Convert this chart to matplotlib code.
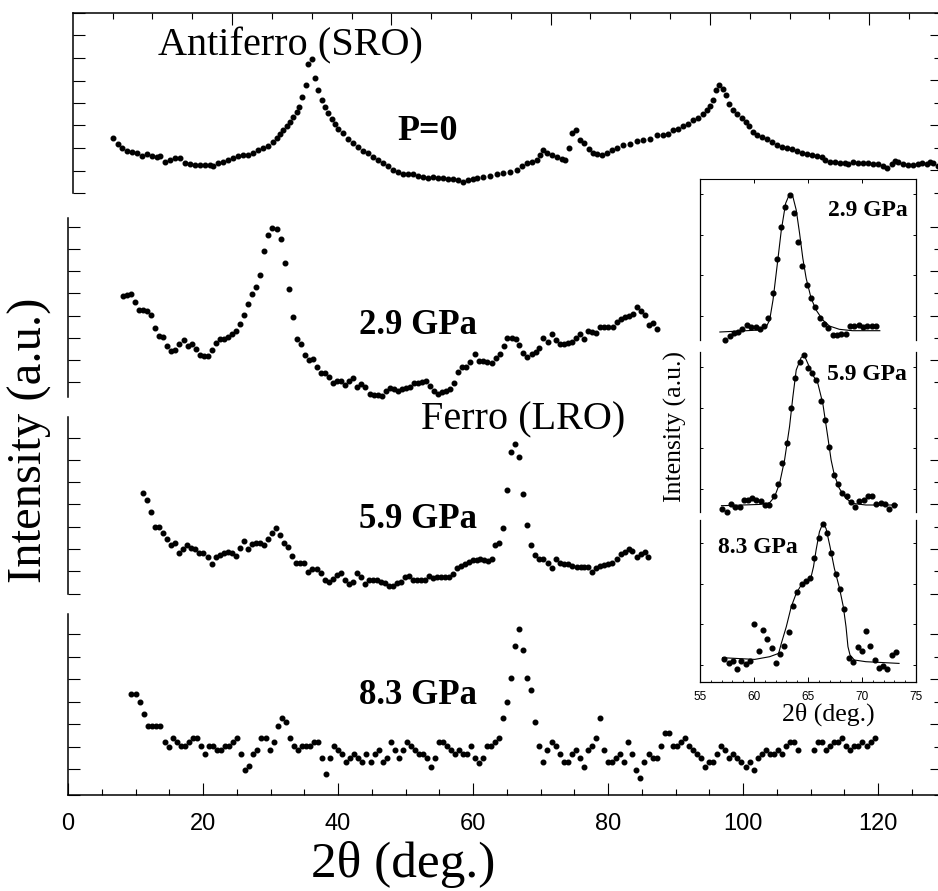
import numpy as np
import matplotlib
matplotlib.use('Agg')
import matplotlib.pyplot as plt

# ---------------- main panels: 2theta (deg.) vs intensity (a.u.) ----------------
p0_x = [6.72, 7.46, 7.95, 8.69, 9.43, 10.17, 10.91, 11.65, 12.4, 13.14, 13.63, 14.37, 15.11, 15.85,
        16.59, 17.33, 18.07, 18.81, 19.56, 20.3, 21.04, 21.53, 22.27, 23.01, 23.75, 24.49, 25.23,
        25.98, 26.72, 27.46, 28.2, 28.94, 29.68, 30.42, 30.91, 31.41, 31.9, 32.4, 32.89, 33.38,
        33.88, 34.27, 34.72, 35.26, 35.6, 36.1, 36.59, 37.09, 37.58, 38.07, 38.57, 39.06, 39.56,
        40.05, 40.79, 41.53, 42.27, 43.01, 43.75, 44.49, 45.23, 45.98, 46.72, 47.46, 48.2, 48.94,
        49.68, 50.42, 51.16, 51.9, 52.64, 53.38, 54.12, 54.86, 55.6, 56.35, 57.09, 57.83, 58.57,
        59.31, 60.05, 60.54, 61.53, 62.51, 63.5, 64.49, 65.48, 66.47, 67.2, 67.95, 68.69, 69.43,
        69.92, 70.42, 71.01, 71.65, 72.39, 73.13, 73.63, 74.27, 74.71, 75.26, 75.85, 76.44, 77.18,
        77.72, 78.42, 79.16, 79.8, 80.54, 81.28, 82.27, 83.26, 84.24, 85.23, 86.22, 87.2, 88.19,
        88.93, 89.67, 90.42, 91.16, 91.9, 92.64, 93.38, 94.12, 94.71, 95.1, 95.6, 96.0, 96.49,
        96.98, 97.43, 97.97, 98.56, 99.16, 99.8, 100.44, 100.93, 101.43, 102.02, 102.76, 103.5,
        104.24, 104.98, 105.73, 106.47, 107.21, 107.95, 108.69, 109.43, 110.17, 110.91, 111.65,
        112.14, 112.89, 113.63, 114.37, 115.11, 115.6, 116.34, 117.08, 117.82, 118.56, 119.3,
        120.05, 120.79, 121.28, 122.02, 122.51, 123.0, 123.75, 124.49, 125.23, 125.97, 126.47,
        127.2, 127.7, 128.2, 128.9]
p0_y = [62.3, 56.7, 51.7, 49, 48.3, 47.3, 44, 46, 44.3, 42.7, 44, 38.3, 40, 42,
        41.7, 37.3, 36, 35, 34.7, 35, 34.7, 34, 36.7, 38.3, 40, 42.3, 44.3,
        45, 45, 46.7, 50, 52.3, 54.3, 58.3, 62.7, 66.7, 70, 74, 78.3, 83.3,
        88.3, 93.3, 103.3, 115.7, 136.7, 141.3, 122.3, 110, 100.7, 93.3, 87.7, 81.7, 76.7,
        71.7, 67.3, 61.7, 57.3, 53.3, 49.3, 46.7, 43.3, 40, 36.7, 34, 30, 28.3,
        26, 25.7, 26, 24.3, 23.3, 21.7, 22.7, 21.7, 21.7, 21, 20.7, 19.7, 18.3,
        20, 21.3, 21.7, 23.3, 24, 26, 27.3, 28.3, 30, 34.3, 36.7, 37.7, 40,
        45, 50, 47.3, 45.3, 43.3, 41.3, 40, 51.7, 67.3, 70.7, 60, 57.3, 50.7,
        46.7, 45.7, 45, 46.7, 50, 52.7, 55, 56.7, 59, 60.7, 61.7, 65, 65,
        66.7, 70, 71.7, 74, 76.7, 80, 82.7, 86, 90, 94, 100.7, 110.7, 115,
        111.7, 105, 96.7, 90, 86.7, 82.7, 78.3, 74, 68.3, 65.7, 63.3, 61,
        58.3, 55.7, 53.3, 52.3, 51, 49, 46.7, 45.7, 45, 44, 43.3,
        40, 38.3, 37.7, 36.7, 36.7, 35.7, 37.7, 36.7, 36.7, 36.7, 36,
        35.7, 34.3, 32.3, 35.7, 39.3, 38.3, 35.7, 35, 35, 35.7, 36.7,
        36, 38.3, 36.7, 34.3]

p29_x = [8.1, 8.69, 9.33, 9.98, 10.57, 11.16, 11.75, 12.35, 12.94, 13.53, 14.12, 14.72, 15.31,
         15.9, 16.49, 17.14, 17.73, 18.32, 18.91, 19.51, 20.1, 20.69, 21.28, 21.88, 22.52, 23.11,
         23.7, 24.3, 24.89, 25.48, 26.07, 26.72, 27.31, 27.9, 28.49, 29.09, 29.68, 30.27, 30.91,
         31.51, 32.1, 32.69, 33.33, 33.93, 34.52, 35.11, 35.7, 36.3, 36.89, 37.48, 38.07, 38.67,
         39.26, 39.85, 40.44, 41.04, 41.63, 42.27, 42.86, 43.46, 44.05, 44.69, 45.28, 45.88, 46.47,
         47.06, 47.66, 48.25, 48.84, 49.43, 50.03, 50.62, 51.21, 51.8, 52.44, 53.04, 53.63, 54.22,
         54.81, 55.41, 56.0, 56.59, 57.24, 57.83, 58.42, 59.01, 59.61, 60.25, 60.84, 61.54, 62.13,
         62.77, 63.36, 64.0, 64.6, 65.09, 65.73, 66.33, 66.82, 67.46, 68.05, 68.7, 69.29, 69.83,
         70.42, 71.07, 71.71, 72.3, 72.89, 73.49, 74.13, 74.72, 75.21, 75.86, 76.5, 76.99, 77.59,
         78.23, 78.82, 79.41, 80.05, 80.7, 81.29, 81.93, 82.52, 83.17, 83.66, 84.25, 84.84, 85.49,
         86.08, 86.72, 87.21]
p29_y = [101, 101.3, 102.3, 95, 86.7, 86.3, 85.7, 81.7, 69, 60.7, 59.3, 50.7, 46,
         46.7, 52.7, 56.3, 51, 52.7, 47.3, 42, 40.3, 40.3, 47, 54, 57.7, 57.3,
         60, 62.3, 65.7, 72.3, 81.3, 92.3, 102.7, 110, 122, 145.7, 162, 168.3, 168,
         157.7, 133.7, 107.3, 79.3, 58, 52.7, 41.7, 37, 37.7, 29.3, 23.3, 24, 19.3,
         13.7, 15.7, 15.7, 12, 15.3, 18.7, 9.3, 12.3, 9.3, 2.3, 1.3, 1.3, 1,
         5.7, 9, 7.7, 6, 7.7, 9, 10, 14, 14, 14.7, 16, 10.7, 5.7,
         3, 4.3, 5.7, 7.3, 13.3, 24.3, 29.7, 30, 34.3, 42.7, 36, 36, 35,
         33.3, 38.3, 42.3, 50.7, 58.3, 59, 57.7, 51.7, 43.3, 40, 42.3, 44.3, 48.3,
         58.3, 55, 62.7, 56.7, 52.7, 52.3, 54, 55, 58.3, 62.7, 57.7, 66, 65,
         63.3, 69.3, 70, 69.3, 70, 75, 77.3, 79.3, 80.7, 82.7, 90, 86, 81.7,
         71.7, 74, 67.3]

p59_x = [11.16, 11.75, 12.35, 12.94, 13.53, 14.12, 14.72, 15.31, 15.9, 16.49, 17.09, 17.68, 18.27,
         18.86, 19.46, 20.05, 20.69, 21.28, 21.88, 22.47, 23.06, 23.65, 24.25, 24.89, 25.48, 26.07,
         26.67, 27.26, 27.85, 28.44, 29.04, 29.63, 30.27, 30.86, 31.46, 32.05, 32.64, 33.23, 33.83,
         34.42, 35.01, 35.6, 36.2, 36.84, 37.43, 38.02, 38.62, 39.21, 39.8, 40.39, 40.99, 41.58,
         42.17, 42.77, 43.41, 44.0, 44.59, 45.19, 45.78, 46.37, 46.96, 47.56, 48.15, 48.74, 49.33,
         49.93, 50.52, 51.11, 51.7, 52.3, 52.89, 53.48, 54.07, 54.67, 55.26, 55.85, 56.44, 57.04,
         57.63, 58.22, 58.81, 59.41, 60.0, 60.59, 61.04, 61.63, 62.28, 62.77, 63.26, 63.9, 64.4,
         64.99, 65.63, 66.23, 66.82, 67.46, 68.0, 68.65, 69.19, 69.83, 70.42, 71.07, 71.66, 72.25,
         72.89, 73.54, 74.13, 74.72, 75.36, 75.96, 76.5, 77.09, 77.68, 78.23, 78.82, 79.41, 80.05,
         80.65, 81.29, 81.88, 82.52, 83.07, 83.61, 84.25, 84.84, 85.49, 85.98]
p59_y = [101, 94.3, 82, 67.7, 67.7, 61.7, 55.3, 49.3, 51, 41, 45.3, 49.7, 46,
         45.3, 41.7, 41, 37, 30.7, 37.7, 39.3, 41, 42.7, 41, 38.7, 46, 53.7,
         45.3, 50, 51, 51, 49.3, 55.3, 61.7, 66, 59.7, 51, 47, 38.7, 31,
         31, 31, 22.7, 25, 25, 21, 14.3, 12.7, 15, 19.3, 21, 14.3, 10,
         12.7, 21, 17.7, 10.3, 14.3, 14.3, 14.3, 12.7, 11, 8.7, 8.7, 11.7, 12.7,
         17, 18.7, 14.3, 14.3, 14.3, 14.3, 18.7, 16.7, 17.7, 17.7, 17.7, 17.7, 20.3,
         26, 28.7, 30.3, 32, 34.3, 34.3, 35.3, 34.3, 33.7, 35, 49.3, 51, 66,
         104.3, 142, 150, 137, 100.3, 69.7, 49.3, 39.3, 35, 35, 31, 26.7, 35,
         31.7, 30, 30, 28.3, 27, 27.7, 27, 27, 22.7, 26, 28.7, 29.3, 30.3,
         31.7, 35, 40.3, 42.7, 45.3, 43.7, 37.7, 40, 42.7, 37]

p83_x = [9.33, 10.07, 10.67, 11.31, 11.9, 12.49, 13.09, 13.68, 14.32, 14.91, 15.51, 16.1, 16.69,
         17.28, 17.88, 18.47, 19.06, 19.7, 20.3, 20.89, 21.48, 22.07, 22.67, 23.26, 23.85, 24.44,
         25.04, 25.68, 26.27, 26.86, 27.46, 28.05, 28.64, 29.28, 29.88, 30.47, 31.06, 31.65, 32.25,
         32.84, 33.43, 34.02, 34.62, 35.21, 35.8, 36.39, 36.99, 37.63, 38.22, 38.81, 39.41, 40.0,
         40.59, 41.19, 41.78, 42.37, 42.96, 43.56, 44.15, 44.84, 45.43, 46.02, 46.62, 47.21, 47.8,
         48.4, 49.04, 49.63, 50.22, 50.81, 51.41, 52.0, 52.59, 53.23, 53.83, 54.42, 55.01, 55.6,
         56.2, 56.79, 57.38, 57.98, 58.57, 59.16, 59.75, 60.35, 60.89, 61.43, 62.02, 62.66, 63.26,
         63.85, 64.39, 64.99, 65.63, 66.22, 66.86, 67.45, 68.05, 68.64, 69.23, 69.82, 70.42, 71.01,
         71.65, 72.24, 72.84, 73.43, 74.02, 74.61, 75.26, 75.85, 76.44, 77.03, 77.63, 78.22, 78.81,
         79.41, 80.0, 80.64, 81.23, 81.82, 82.42, 83.01, 83.6, 84.19, 84.79, 85.38, 86.02, 86.61,
         87.21, 87.8, 88.39, 88.99, 89.58, 90.22, 90.81, 91.41, 92.0, 92.59, 93.18, 93.78, 94.37,
         94.96, 95.6, 96.2, 96.79, 97.38, 97.97, 98.57, 99.16, 99.75, 100.39, 100.99, 101.58,
         102.17, 102.76, 103.36, 103.95, 104.54, 105.18, 105.78, 106.37, 106.96, 107.55, 108.15,
         110.52, 111.11, 111.7, 112.29, 112.89, 113.53, 114.12, 114.71, 115.31, 115.9, 116.49,
         117.09, 117.68, 118.32, 118.91, 119.5]
p83_y = [101, 101, 92.7, 81, 69, 69, 69, 69, 53.3, 48.3, 57.3, 53.3, 49,
         49, 53.3, 57.3, 57.3, 49, 41, 49, 49, 45, 45, 49, 49, 53.3,
         57.3, 41, 25, 29.3, 41, 45, 57.3, 57.3, 45, 53.3, 69, 77.3, 72.7,
         57.3, 49, 45, 49, 49, 49, 53.3, 53.3, 36.7, 21, 36.7, 49, 45,
         41, 32.7, 36.7, 41, 36.7, 32.7, 41, 32.7, 41, 45, 32.7, 36.7, 53.3,
         45, 36.7, 45, 53.3, 49, 45, 41, 41, 36.7, 28.3, 36.7, 53.3, 53.3,
         49, 45, 41, 45, 41, 41, 49, 36.7, 32.3, 37.3, 49, 49, 53.3,
         57.3, 76.7, 92.7, 116.7, 149, 165.7, 145, 116.7, 105, 72.7, 49, 32.7, 45,
         53.3, 49, 41, 32.7, 32.7, 41, 45, 36.7, 28.3, 45, 49, 57.3, 76.7,
         45, 32.7, 32.7, 36.7, 41, 32.7, 53.3, 41, 25, 16.7, 32.7, 41, 36.7,
         36.7, 49, 61.7, 61.7, 49, 49, 53.3, 57.3, 49, 45, 41, 36.7, 28.3,
         32.7, 32.7, 41, 49, 45, 36.7, 41, 36.7, 32.7, 28.3, 32.7, 25,
         36.7, 41, 45, 41, 41, 45, 41, 49, 53.3, 53.3, 45,
         45, 53.3, 53.3, 45, 49, 53.3, 53.3, 57.3, 49, 45, 49,
         49, 53.3, 49, 53.3, 57.3]

# ---------------- inset: 2theta 55-75 deg, data and fitted curves ----------------
in29_x = [57.3, 57.76, 58.16, 58.56, 58.93, 59.36, 59.76, 60.16, 60.53, 60.93, 61.33, 61.73, 62.13,
          62.5, 62.9, 63.29, 63.69, 64.09, 64.49, 64.89, 65.29, 65.69, 66.09, 66.49, 66.89, 67.29,
          67.69, 68.09, 68.49, 68.89, 69.29, 69.69, 70.08, 70.48, 70.88, 71.28]
in29_y = [0, 4.3, 6.7, 8.3, 11, 15, 13.3, 12.7, 10.7, 14.3, 21.7, 46.7, 80.7,
          112.7, 133.3, 144.7, 127.3, 98.3, 74, 55, 42.3, 33.3, 21.7, 16, 12.3, 5,
          5.3, 6, 6, 14.3, 14.3, 15, 13.3, 14.3, 14, 14]
fit29_x = [56.84, 59.3, 60.53, 61.14, 61.45, 61.76, 62.13, 62.53, 62.93, 63.29, 63.6, 63.91, 64.22,
           64.52, 64.83, 65.29, 65.75, 66.37, 66.98, 67.9, 69.13, 71.65]
fit29_y = [8, 9.3, 10, 13.3, 20, 40, 73.3, 110, 136.7, 146, 143.3, 130, 106.7,
           81.7, 61.7, 41.7, 30, 20, 14, 10.7, 9.3, 9.3]

in59_x = [57.06, 57.46, 57.86, 58.26, 58.66, 59.05, 59.45, 59.82, 60.22, 60.62, 61.02, 61.42, 61.82,
          62.22, 62.62, 63.02, 63.42, 63.82, 64.22, 64.59, 64.98, 65.38, 65.78, 66.18, 66.58, 66.98,
          67.38, 67.78, 68.18, 68.58, 68.98, 69.35, 69.75, 70.15, 70.55, 70.94, 71.34, 71.74, 72.14,
          72.54, 72.94]
in59_y = [2.3, 0, 7.3, 5, 5, 11.7, 11.7, 14, 11.7, 11, 6.7, 6.7, 16,
          27.7, 48.3, 69, 103.3, 133.3, 150, 156.7, 143.3, 138.3, 131.7, 111, 91.7, 64.3,
          36.7, 27.7, 18.3, 16, 9.3, 5, 11, 11.7, 16, 16, 7.7, 8.3, 7.7,
          2.3, 6.7]
fit59_x = [56.99, 58.99, 60.53, 61.45, 61.91, 62.37, 62.83, 63.29, 63.6, 63.91, 64.37, 64.68, 64.98,
           65.45, 65.91, 66.37, 66.83, 67.14, 67.44, 67.9, 68.52, 69.13, 70.36, 73.28]
fit59_y = [6, 6.7, 7.3, 9, 15, 28.3, 51.7, 85, 115, 141.7, 154.3, 155.7, 148.3,
           136.7, 128.3, 108.3, 75, 51.7, 36.7, 23.3, 13.3, 8.3, 6.7, 6.7]

in83_x = [57.24, 57.64, 58.04, 58.44, 58.84, 59.24, 59.64, 60.04, 60.44, 60.84, 61.21, 61.64, 62.0,
          62.4, 62.8, 63.2, 63.6, 64.0, 64.4, 64.8, 65.2, 65.6, 66.0, 66.37, 66.77, 67.17,
          67.57, 67.96, 68.36, 68.76, 69.16, 69.59, 69.99, 70.39, 70.76, 71.16, 71.56, 71.96, 72.36,
          72.76, 73.16]
in83_y = [22.3, 19, 21, 12.7, 20.7, 17.7, 20.7, 57.7, 31, 51.7, 42.7, 33.7, 19,
          27.3, 36, 50, 75.7, 90, 97.7, 100.7, 103.3, 123.3, 143.3, 157.3, 148.3, 128.3,
          107.7, 92.7, 72.7, 23.3, 20, 34.3, 31, 51, 36, 21.7, 13.3, 15.7, 12.3,
          26.7, 29.3]
fit83_x = [57.09, 60.07, 61.45, 62.28, 62.53, 62.99, 63.45, 63.91, 64.37, 64.98, 65.29, 65.51, 65.75,
           66.06, 66.37, 66.67, 67.04, 67.44, 67.9, 68.27, 68.52, 68.7, 68.89, 69.29, 70.36, 73.43]
fit83_y = [24, 22.3, 25, 28.3, 38.3, 55, 75, 88.3, 96.7, 100.7, 105, 115, 131.7,
           150, 158.3, 153.3, 135, 113.3, 94.3, 75, 55, 35, 26.7, 21.7, 20, 18.3]

W, H = 938, 891
SERIF = ['Liberation Serif', 'DejaVu Serif']
SANS = ['Liberation Sans Narrow', 'Liberation Sans', 'DejaVu Sans']

fig = plt.figure(figsize=(W / 100, H / 100), dpi=100)


def px_axes(left, top, right, bottom):
    # axes box given in pixel coordinates of the figure
    return fig.add_axes([left / W, 1 - bottom / H, (right - left) / W, (bottom - top) / H])


def setup_panel(ax, xlim, ylim, yticks, long_right):
    ax.set_xlim(xlim)
    ax.set_ylim(ylim)
    ax.patch.set_alpha(0)
    for s in ['top', 'right', 'bottom']:
        ax.spines[s].set_visible(False)
    ax.spines['left'].set_linewidth(1.1)
    ax.set_xticks([])
    ax.set_yticks(yticks)
    ax.tick_params(axis='y', direction='in', length=8.5, width=0.8, labelleft=False)
    sec = ax.secondary_yaxis('right')
    sec.spines['right'].set_visible(False)
    sec.set_yticks(yticks[long_right::2])
    sec.set_yticks(yticks[1 - long_right::2], minor=True)
    sec.tick_params(which='major', direction='in', length=5.5, width=0.8, labelright=False)
    sec.tick_params(which='minor', direction='in', length=2.8, width=0.8, labelright=False)


dot = dict(ls='none', marker='o', ms=3.3, color='black', mec='black', clip_on=False)
xmax = (938 - 68) / 6.75

# top panel P=0
ax0 = px_axes(72.5, 13, 938, 193)
setup_panel(ax0, ((72.5 - 68) / 6.75, xmax), (7, 187), list(np.arange(7, 188, 22.6)), 1)
ax0.spines['top'].set_visible(True)
ax0.spines['top'].set_linewidth(1.1)
ax0.set_xticks(np.arange(24.3, 129, 23.6))
ax0.set_xticks(np.arange(6.6, 129, 5.9), minor=True)
ax0.tick_params(axis='x', which='major', top=True, bottom=False, direction='in', length=8.5,
                width=0.8, labeltop=False, labelbottom=False)
ax0.tick_params(axis='x', which='minor', top=True, bottom=False, direction='in', length=4.3,
                width=0.8)
ax0.plot(p0_x, p0_y, **dot)
ax0.text(33.0, 155, 'Antiferro (SRO)', family=SERIF, fontsize=29, ha='center', va='center')
ax0.text(53.3, 69, 'P=0', family=SERIF, fontsize=26, fontweight='bold', ha='center', va='center')

# 2.9 GPa
ax1 = px_axes(68, 218, 938, 396.7)
setup_panel(ax1, (0, xmax), (0, 178.7), [14.7, 36.7, 58.7, 80.7, 103.7, 125.7, 147.7, 169.7], 1)
ax1.plot(p29_x, p29_y, **dot)
ax1.text(51.9, 71.7, '2.9 GPa', family=SERIF, fontsize=25, fontweight='bold', ha='center', va='center')

# 5.9 GPa
ax2 = px_axes(67.5, 417, 938, 594.3)
setup_panel(ax2, ((67.5 - 68) / 6.75, xmax), (0, 177.3),
            [0.3, 23.3, 45.3, 67.3, 90.3, 112.3, 134.3, 156.3], 0)
ax2.plot(p59_x, p59_y, **dot)
ax2.text(51.9, 75.3, '5.9 GPa', family=SERIF, fontsize=25, fontweight='bold', ha='center', va='center')
ax2.text(67.4, 174.3, 'Ferro (LRO)', family=SERIF, fontsize=29, ha='center', va='center')

# 8.3 GPa
ax3 = px_axes(68, 614, 938, 795)
setup_panel(ax3, (0, xmax), (0, 181), [0, 26, 48, 71, 93, 116, 138, 161], 1)
ax3.spines['bottom'].set_visible(True)
ax3.spines['bottom'].set_linewidth(1.1)
ax3.set_xticks(np.arange(0, 121, 20))
ax3.set_xticks(np.arange(0, 129, 5), minor=True)
ax3.tick_params(axis='x', which='major', direction='in', length=8.5, width=0.8, pad=13,
                labelsize=17)
ax3.tick_params(axis='x', which='minor', direction='in', length=4.3, width=0.8)
for lab in ax3.get_xticklabels():
    lab.set_family(SANS)
ax3.plot(p83_x, p83_y, **dot)
ax3.text(51.9, 99, '8.3 GPa', family=SERIF, fontsize=25, fontweight='bold', ha='center', va='center')

fig.text(30 / W, 1 - 440 / H, 'Intensity (a.u.)', family=SERIF, fontsize=35, rotation=90,
         ha='center', va='center')
fig.text(403 / W, 1 - 864 / H, '2\u03b8 (deg.)', family=SERIF, fontsize=37, ha='center', va='center')

# ---------------- inset ----------------
insets = [(179, 340, in29_x, in29_y, fit29_x, fit29_y, [24.3, 64.8, 105.3, 145.8]),
          (352, 511.7, in59_x, in59_y, fit59_x, fit59_y, [22.7, 63.4, 104.1, 144.8]),
          (520, 681.7, in83_x, in83_y, fit83_x, fit83_y, [16.7, 57.4, 98.1, 138.8])]
inset_axes = []
for i, (top, bottom, dx, dy, fx, fy, yt) in enumerate(insets):
    ax = px_axes(700, top, 916, bottom)
    ax.set_facecolor('white')
    ax.set_xlim(55, 75)
    ax.set_ylim(0, bottom - top)
    for s in ['top', 'bottom']:
        ax.spines[s].set_visible(False)
    for s in ['left', 'right']:
        ax.spines[s].set_linewidth(0.9)
    ax.set_yticks(yt)
    ax.tick_params(axis='y', left=True, right=True, direction='in', length=2.5, width=0.7,
                   labelleft=False)
    ax.set_xticks([])
    ax.plot(fx, fy, color='black', lw=0.8, clip_on=False)
    ax.plot(dx, dy, ls='none', marker='o', ms=3.4, color='black', clip_on=False)
    inset_axes.append(ax)

axA, axB, axC = inset_axes
axA.spines['top'].set_visible(True)
axA.set_xticks([60, 65, 70])
axA.tick_params(axis='x', top=True, bottom=False, direction='in', length=3, width=0.7,
                labelbottom=False)
axC.spines['bottom'].set_visible(True)
axC.spines['bottom'].set_linewidth(0.9)
axC.set_xticks(np.arange(55, 76, 5))
axC.set_xticks(np.arange(55, 76, 1), minor=True)
axC.tick_params(axis='x', which='major', direction='in', length=3.5, width=0.7, pad=7, labelsize=8.5)
axC.tick_params(axis='x', which='minor', direction='in', length=1.8, width=0.6)
for lab in axC.get_xticklabels():
    lab.set_family(SANS)

axA.text(70.5, 130, '2.9 GPa', family=SERIF, fontsize=17, fontweight='bold', ha='center', va='center')
axB.text(70.5, 136.7, '5.9 GPa', family=SERIF, fontsize=17, fontweight='bold', ha='center', va='center')
axC.text(60.35, 134.7, '8.3 GPa', family=SERIF, fontsize=17, fontweight='bold', ha='center', va='center')

fig.text(675 / W, 1 - 426 / H, 'Intensity (a.u.)', family=SERIF, fontsize=18.5, rotation=90,
         ha='center', va='center')
fig.text(828 / W, 1 - 714 / H, '2\u03b8 (deg.)', family=SERIF, fontsize=18.5, ha='center', va='center')

fig.savefig('out.png', dpi=100)
